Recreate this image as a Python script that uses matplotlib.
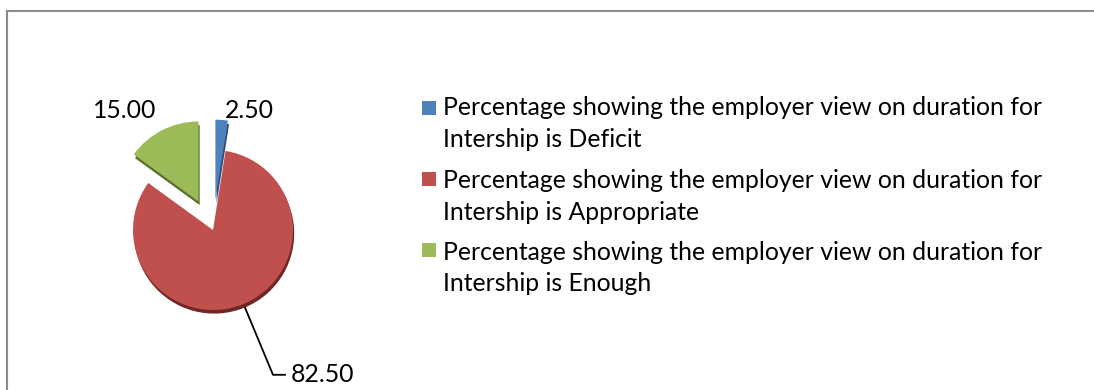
import matplotlib
matplotlib.use("Agg")
from matplotlib import pyplot as plt
from matplotlib.lines import Line2D
from matplotlib.patches import Rectangle

# opinion shares, clockwise from 12 o'clock
categories = ["Deficit", "Appropriate", "Enough"]
values = [2.50, 82.50, 15.00]
explode = [0.38, 0.0, 0.4]
colors = ["#4F81BD", "#C0504D", "#9BBB59"]
dark_colors = ["#2c4d75", "#6e2725", "#56702c"]
legend_labels = ["Percentage showing the employer view on duration for\nIntership is " + c
                 for c in categories]

plt.rcParams['font.family'] = ['Lato', 'DejaVu Sans']

fig = plt.figure(figsize=(10.94, 3.9), dpi=100)
W, H = 1094.0, 390.0

# pie axes: 300px square, 80px pie radius
cx, cy, half = 213, 230, 150
ax = fig.add_axes([(cx - half) / W, (H - cy - half) / H, 2 * half / W, 2 * half / H])
lim = half / 80.0

# darker copy underneath for the raised edge
ax.pie(values, explode=explode, colors=dark_colors, startangle=90, counterclock=False,
       center=(0.015, -0.045), radius=1.0, frame=True,
       wedgeprops=dict(linewidth=0))
ax.pie(values, explode=explode, colors=colors, startangle=90, counterclock=False,
       radius=1.0, frame=True, wedgeprops=dict(linewidth=0))
ax.set_xlim(-lim, lim)
ax.set_ylim(-lim, lim)
ax.set_aspect("equal")
ax.axis("off")

fs = 17.8
ax.text(0.46, 1.5, f"{values[0]:.2f}", ha="center", va="center", fontsize=fs)
ax.text(-1.1, 1.5, f"{values[2]:.2f}", ha="center", va="center", fontsize=fs)
ax.text(0.97, -1.81, f"{values[1]:.2f}", ha="left", va="center", fontsize=fs)
ax.plot([0.4, 0.75, 0.9], [-0.97, -1.81, -1.81], color="black", lw=1.3, clip_on=False)

# legend: colour square beside the first line of each two-line entry
square_y = [108, 179, 250]
text_y = [123.5, 196.5, 268]
for col, lab, sy, ty in zip(colors, legend_labels, square_y, text_y):
    fig.add_artist(Rectangle((422 / W, 1 - (sy + 7) / H), 14 / W, 14 / H,
                             transform=fig.transFigure, facecolor=col, edgecolor="none"))
    fig.text(443 / W, 1 - ty / H, lab, ha="left", va="center", fontsize=fs,
             linespacing=1.47)

# frame lines along top and left
fig.add_artist(Line2D([7 / W, 1.0], [1 - 11 / H, 1 - 11 / H], color="#8c8c8c", lw=1.5))
fig.add_artist(Line2D([7 / W, 7 / W], [0.0, 1 - 11 / H], color="#8c8c8c", lw=1.5))

fig.savefig("out.png", dpi=100)
